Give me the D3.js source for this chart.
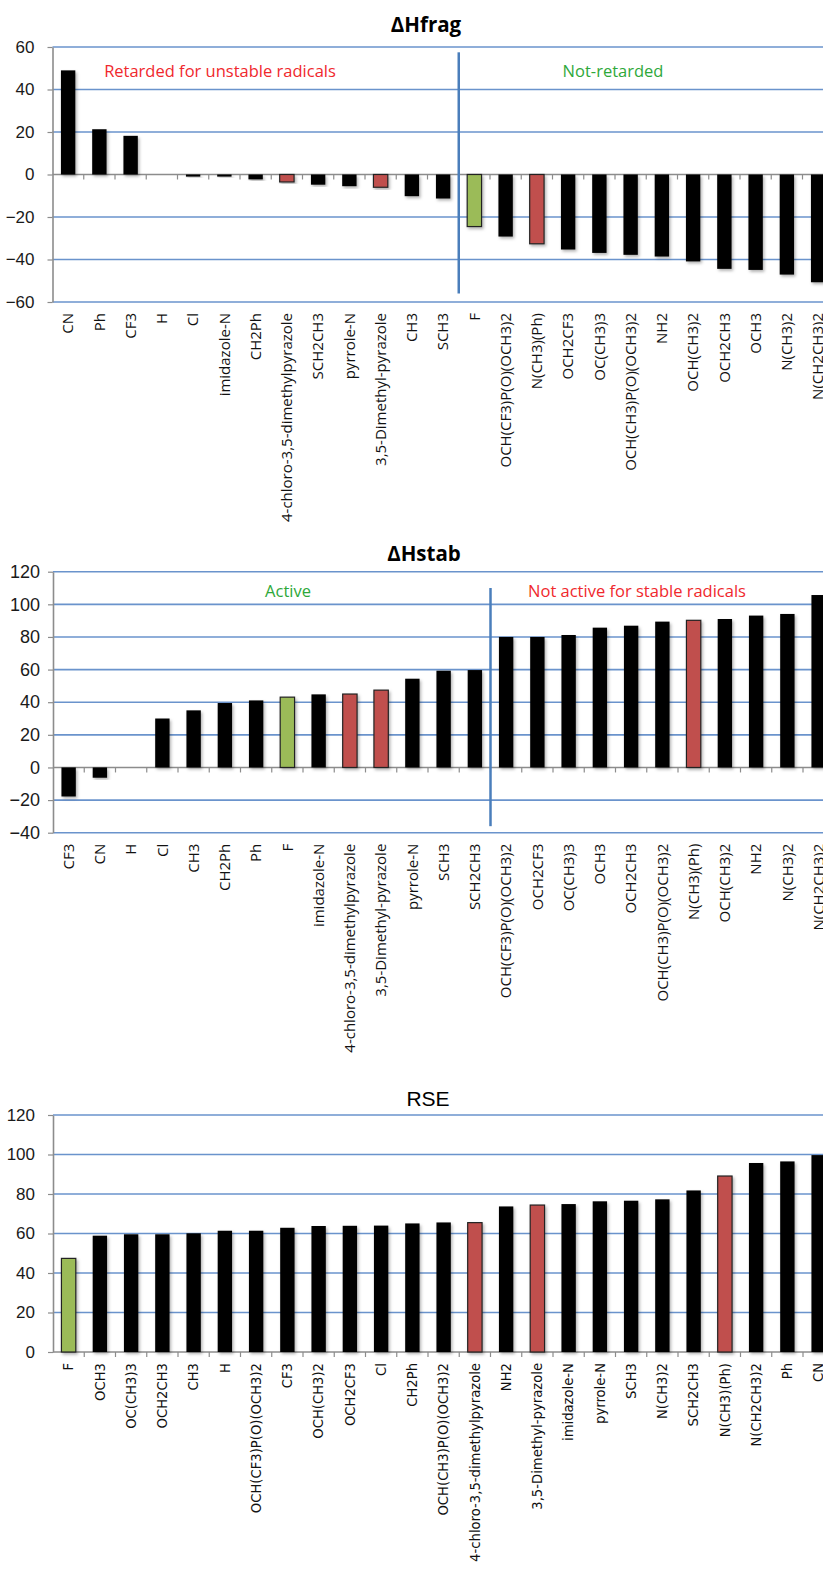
<!DOCTYPE html>
<html>
<head>
<meta charset="utf-8">
<script src="https://cdn.jsdelivr.net/npm/d3@7"></script>
<style>
  body { margin: 0; background: #fff; }
  svg { display: block; }
</style>
</head>
<body>
<svg width="823" height="1577" viewBox="0 0 823 1577"></svg>
<script>
// substituents drawn in colour in every panel
const redCats = ["4-chloro-3,5-dimethylpyrazole", "3,5-Dimethyl-pyrazole", "N(CH3)(Ph)"];
const greenCats = ["F"];

const fragLabels = ["CN", "Ph", "CF3", "H", "Cl", "imidazole-N", "CH2Ph", "4-chloro-3,5-dimethylpyrazole",
  "SCH2CH3", "pyrrole-N", "3,5-Dimethyl-pyrazole", "CH3", "SCH3", "F", "OCH(CF3)P(O)(OCH3)2",
  "N(CH3)(Ph)", "OCH2CF3", "OC(CH3)3", "OCH(CH3)P(O)(OCH3)2", "NH2", "OCH(CH3)2", "OCH2CH3",
  "OCH3", "N(CH3)2", "N(CH2CH3)2"];
const fragValues = [49, 21.3, 18.2, 0, -1, -1, -2.3, -3.5, -4.8, -5.5, -6, -10.2, -11.3, -24.5, -29.2,
  -32.6, -35.3, -36.9, -37.8, -38.6, -40.9, -44.4, -44.9, -47.1, -50.7];

const stabLabels = ["CF3", "CN", "H", "Cl", "CH3", "CH2Ph", "Ph", "F", "imidazole-N",
  "4-chloro-3,5-dimethylpyrazole", "3,5-Dimethyl-pyrazole", "pyrrole-N", "SCH3", "SCH2CH3",
  "OCH(CF3)P(O)(OCH3)2", "OCH2CF3", "OC(CH3)3", "OCH3", "OCH2CH3", "OCH(CH3)P(O)(OCH3)2",
  "N(CH3)(Ph)", "OCH(CH3)2", "NH2", "N(CH3)2", "N(CH2CH3)2"];
const stabValues = [-17.8, -6.3, 0, 30, 35, 39.5, 41.1, 43.1, 44.8, 45, 47.4, 54.4, 59.3, 59.7,
  80, 80, 81.2, 85.7, 86.9, 89.4, 90.2, 91, 93.1, 94.1, 105.7];

const rseLabels = ["F", "OCH3", "OC(CH3)3", "OCH2CH3", "CH3", "H", "OCH(CF3)P(O)(OCH3)2", "CF3",
  "OCH(CH3)2", "OCH2CF3", "Cl", "CH2Ph", "OCH(CH3)P(O)(OCH3)2", "4-chloro-3,5-dimethylpyrazole",
  "NH2", "3,5-Dimethyl-pyrazole", "imidazole-N", "pyrrole-N", "SCH3", "N(CH3)2", "SCH2CH3",
  "N(CH3)(Ph)", "N(CH2CH3)2", "Ph", "CN"];
const rseValues = [47.4, 58.9, 59.6, 59.6, 60.1, 61.4, 61.4, 62.9, 63.8, 63.9, 64, 65.1, 65.6, 65.5,
  73.7, 74.4, 74.9, 76.3, 76.6, 77.3, 81.8, 89.1, 95.7, 96.5, 99.7];

const svg = d3.select("svg");

const defs = svg.append("defs");
defs.append("filter").attr("id", "shadow")
  .attr("x", "-50%").attr("y", "-20%").attr("width", "200%").attr("height", "140%")
  .append("feDropShadow")
  .attr("dx", 1.5).attr("dy", 2).attr("stdDeviation", 1.5)
  .attr("flood-color", "#000").attr("flood-opacity", 0.3);

function barColor(name) {
  if (redCats.includes(name)) return "#c0504d";
  if (greenCats.includes(name)) return "#9bbb59";
  return "#000";
}

function drawChart(opt) {
  const g = svg.append("g");
  const x = d3.scaleBand()
    .domain(opt.labels)
    .range([opt.axisX, opt.axisX + opt.labels.length * 31.25])
    .paddingInner(0.54).paddingOuter(0.27);
  const y = d3.scaleLinear().domain(opt.domain).range([opt.bottom, opt.top]);
  const ticks = d3.range(opt.domain[0], opt.domain[1] + 1, 20);

  // gridlines
  g.append("g").selectAll("line")
    .data(ticks.filter(t => t !== 0))
    .join("line")
    .attr("x1", opt.axisX).attr("x2", 823)
    .attr("y1", d => y(d)).attr("y2", d => y(d))
    .attr("stroke", "#6a93cc").attr("stroke-width", 1.6);

  // y axis
  const yAxis = g.append("g")
    .attr("transform", `translate(${opt.axisX},0)`)
    .call(d3.axisLeft(y).tickValues(ticks).tickSize(5).tickPadding(opt.tickPad).tickSizeOuter(0));
  yAxis.select(".domain").attr("stroke", "#8c8c8c").attr("stroke-width", 1.6);
  yAxis.selectAll(".tick line").attr("stroke", "#8c8c8c").attr("stroke-width", 1.2);
  yAxis.selectAll(".tick text")
    .attr("font-family", "Liberation Sans, Arial, sans-serif")
    .attr("font-size", opt.tickSize).attr("fill", "#1a1a1a");

  // zero line with category ticks
  g.append("line")
    .attr("x1", opt.axisX).attr("x2", 823)
    .attr("y1", y(0)).attr("y2", y(0))
    .attr("stroke", "#8c8c8c").attr("stroke-width", 1.6);
  g.append("g").selectAll("line")
    .data(d3.range(1, opt.labels.length + 1))
    .join("line")
    .attr("x1", i => opt.axisX + i * 31.25).attr("x2", i => opt.axisX + i * 31.25)
    .attr("y1", y(0)).attr("y2", y(0) + 5)
    .attr("stroke", "#8c8c8c").attr("stroke-width", 1.2);

  // bars
  g.append("g").selectAll("rect")
    .data(opt.labels.map((l, i) => ({ label: l, value: opt.values[i] })))
    .join("rect")
    .attr("x", d => x(d.label))
    .attr("width", x.bandwidth())
    .attr("y", d => y(Math.max(0, d.value)))
    .attr("height", d => Math.abs(y(d.value) - y(0)))
    .attr("fill", d => barColor(d.label))
    .attr("stroke", d => barColor(d.label) === "#000" ? "none" : "#222")
    .attr("stroke-width", 1.2)
    .attr("filter", "url(#shadow)");

  // separator between groups
  if (opt.sep) {
    const sx = opt.axisX + opt.sep.after * 31.25;
    g.append("line")
      .attr("x1", sx).attr("x2", sx)
      .attr("y1", y(opt.sep.from)).attr("y2", y(opt.sep.to))
      .attr("stroke", "#4a7ebb").attr("stroke-width", 2.5);
  }

  // category labels
  g.append("g").selectAll("text")
    .data(opt.labels)
    .join("text")
    .attr("transform", d => `translate(${x(d) + x.bandwidth() / 2},${opt.bottom + 11}) rotate(-90)`)
    .attr("text-anchor", "end")
    .attr("dy", "0.35em")
    .attr("font-family", opt.labelFont)
    .attr("font-size", opt.labelSize)
    .attr("fill", "#111")
    .text(d => d);

  // title
  g.append("text")
    .attr("x", opt.titleX).attr("y", opt.titleY)
    .attr("text-anchor", "middle")
    .attr("font-family", opt.titleFont)
    .attr("font-weight", opt.titleWeight)
    .attr("font-size", opt.titleSize)
    .attr("fill", "#000")
    .text(opt.title);

  // group notes
  (opt.notes || []).forEach(n => {
    g.append("text")
      .attr("x", n.x).attr("y", n.y)
      .attr("text-anchor", "middle")
      .attr("font-family", "Open Sans, sans-serif")
      .attr("font-size", 16.5)
      .attr("fill", n.color)
      .text(n.text);
  });
}

drawChart({
  labels: fragLabels, values: fragValues,
  axisX: 52.5, top: 47, bottom: 302, domain: [-60, 60],
  tickPad: 13, tickSize: 17,
  labelFont: "Open Sans, sans-serif", labelSize: 15,
  title: "ΔHfrag", titleX: 426, titleY: 32, titleFont: "Open Sans, sans-serif", titleWeight: "bold", titleSize: 20.5,
  sep: { after: 13, from: 57.5, to: -56 },
  notes: [
    { text: "Retarded for unstable radicals", x: 220, y: 77, color: "#f0282d" },
    { text: "Not-retarded", x: 613, y: 77, color: "#2ea83a" }
  ]
});

drawChart({
  labels: stabLabels, values: stabValues,
  axisX: 53, top: 571.7, bottom: 832.7, domain: [-40, 120],
  tickPad: 8, tickSize: 18,
  labelFont: "Open Sans, sans-serif", labelSize: 15,
  title: "ΔHstab", titleX: 424, titleY: 561, titleFont: "Open Sans, sans-serif", titleWeight: "bold", titleSize: 20.5,
  sep: { after: 14, from: 110, to: -36 },
  notes: [
    { text: "Active", x: 288, y: 597, color: "#2ea83a" },
    { text: "Not active for stable radicals", x: 637, y: 597, color: "#f0282d" }
  ]
});

drawChart({
  labels: rseLabels, values: rseValues,
  axisX: 53, top: 1115, bottom: 1352, domain: [0, 120],
  tickPad: 13, tickSize: 17,
  labelFont: "DejaVu Sans, sans-serif", labelSize: 13.2,
  title: "RSE", titleX: 428, titleY: 1106, titleFont: "Liberation Sans, Arial, sans-serif", titleWeight: "normal", titleSize: 21
});
</script>
</body>
</html>
